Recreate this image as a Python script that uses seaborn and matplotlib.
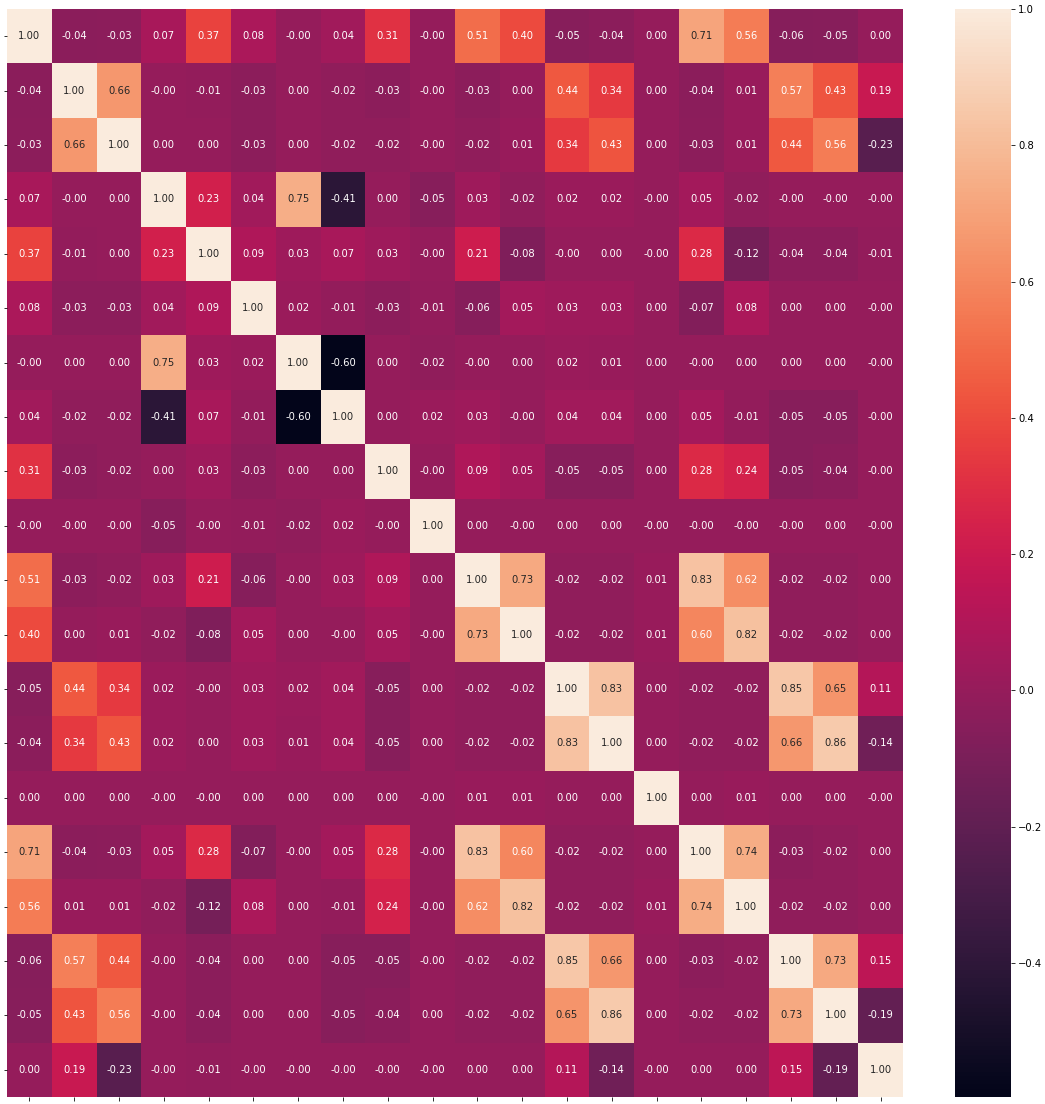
import numpy as np
import pandas as pd
import matplotlib
matplotlib.use("Agg")
import matplotlib.pyplot as plt
import seaborn as sns

# Correlation matrix (-0.001 stands for a displayed "-0.00")
r00 = [1.00, -0.04, -0.03, 0.07, 0.37, 0.08, -0.001, 0.04, 0.31, -0.001, 0.51, 0.40, -0.05, -0.04, 0.00, 0.71, 0.56, -0.06, -0.05, 0.00]
r01 = [-0.04, 1.00, 0.66, -0.001, -0.01, -0.03, 0.00, -0.02, -0.03, -0.001, -0.03, 0.00, 0.44, 0.34, 0.00, -0.04, 0.01, 0.57, 0.43, 0.19]
r02 = [-0.03, 0.66, 1.00, 0.00, 0.00, -0.03, 0.00, -0.02, -0.02, -0.001, -0.02, 0.01, 0.34, 0.43, 0.00, -0.03, 0.01, 0.44, 0.56, -0.23]
r03 = [0.07, -0.001, 0.00, 1.00, 0.23, 0.04, 0.75, -0.41, 0.00, -0.05, 0.03, -0.02, 0.02, 0.02, -0.001, 0.05, -0.02, -0.001, -0.001, -0.001]
r04 = [0.37, -0.01, 0.00, 0.23, 1.00, 0.09, 0.03, 0.07, 0.03, -0.001, 0.21, -0.08, -0.001, 0.00, -0.001, 0.28, -0.12, -0.04, -0.04, -0.01]
r05 = [0.08, -0.03, -0.03, 0.04, 0.09, 1.00, 0.02, -0.01, -0.03, -0.01, -0.06, 0.05, 0.03, 0.03, 0.00, -0.07, 0.08, 0.00, 0.00, -0.001]
r06 = [-0.001, 0.00, 0.00, 0.75, 0.03, 0.02, 1.00, -0.597, 0.00, -0.02, -0.001, 0.00, 0.02, 0.01, 0.00, -0.001, 0.00, 0.00, 0.00, -0.001]
r07 = [0.04, -0.02, -0.02, -0.41, 0.07, -0.01, -0.597, 1.00, 0.00, 0.02, 0.03, -0.001, 0.04, 0.04, 0.00, 0.05, -0.01, -0.05, -0.05, -0.001]
r08 = [0.31, -0.03, -0.02, 0.00, 0.03, -0.03, 0.00, 0.00, 1.00, -0.001, 0.09, 0.05, -0.05, -0.05, 0.00, 0.28, 0.24, -0.05, -0.04, -0.001]
r09 = [-0.001, -0.001, -0.001, -0.05, -0.001, -0.01, -0.02, 0.02, -0.001, 1.00, 0.00, -0.001, 0.00, 0.00, -0.001, -0.001, -0.001, -0.001, 0.00, -0.001]
r10 = [0.51, -0.03, -0.02, 0.03, 0.21, -0.06, -0.001, 0.03, 0.09, 0.00, 1.00, 0.73, -0.02, -0.02, 0.01, 0.83, 0.62, -0.02, -0.02, 0.00]
r11 = [0.40, 0.00, 0.01, -0.02, -0.08, 0.05, 0.00, -0.001, 0.05, -0.001, 0.73, 1.00, -0.02, -0.02, 0.01, 0.60, 0.82, -0.02, -0.02, 0.00]
r12 = [-0.05, 0.44, 0.34, 0.02, -0.001, 0.03, 0.02, 0.04, -0.05, 0.00, -0.02, -0.02, 1.00, 0.83, 0.00, -0.02, -0.02, 0.85, 0.65, 0.11]
r13 = [-0.04, 0.34, 0.43, 0.02, 0.00, 0.03, 0.01, 0.04, -0.05, 0.00, -0.02, -0.02, 0.83, 1.00, 0.00, -0.02, -0.02, 0.66, 0.86, -0.14]
r14 = [0.00, 0.00, 0.00, -0.001, -0.001, 0.00, 0.00, 0.00, 0.00, -0.001, 0.01, 0.01, 0.00, 0.00, 1.00, 0.00, 0.01, 0.00, 0.00, -0.001]
r15 = [0.71, -0.04, -0.03, 0.05, 0.28, -0.07, -0.001, 0.05, 0.28, -0.001, 0.83, 0.60, -0.02, -0.02, 0.00, 1.00, 0.74, -0.03, -0.02, 0.00]
r16 = [0.56, 0.01, 0.01, -0.02, -0.12, 0.08, 0.00, -0.01, 0.24, -0.001, 0.62, 0.82, -0.02, -0.02, 0.01, 0.74, 1.00, -0.02, -0.02, 0.00]
r17 = [-0.06, 0.57, 0.44, -0.001, -0.04, 0.00, 0.00, -0.05, -0.05, -0.001, -0.02, -0.02, 0.85, 0.66, 0.00, -0.03, -0.02, 1.00, 0.73, 0.15]
r18 = [-0.05, 0.43, 0.56, -0.001, -0.04, 0.00, 0.00, -0.05, -0.04, 0.00, -0.02, -0.02, 0.65, 0.86, 0.00, -0.02, -0.02, 0.73, 1.00, -0.19]
r19 = [0.00, 0.19, -0.23, -0.001, -0.01, -0.001, -0.001, -0.001, -0.001, -0.001, 0.00, 0.00, 0.11, -0.14, -0.001, 0.00, 0.00, 0.15, -0.19, 1.00]

rows = [r00, r01, r02, r03, r04, r05, r06, r07, r08, r09,
        r10, r11, r12, r13, r14, r15, r16, r17, r18, r19]
tick_labels = [""] * 20

corr = pd.DataFrame(np.array(rows))

W, H = 1045, 1104
fig = plt.figure(figsize=(W / 72, H / 72), dpi=72)
ax = fig.add_axes([7 / W, 7 / H, 896 / W, 1088 / H])
cax = fig.add_axes([955 / W, 7 / H, 56 / W, 1088 / H])

sns.heatmap(corr, annot=True, fmt=".2f", ax=ax, cbar_ax=cax,
            xticklabels=tick_labels, yticklabels=tick_labels)

fig.savefig("out.png", dpi=72)
